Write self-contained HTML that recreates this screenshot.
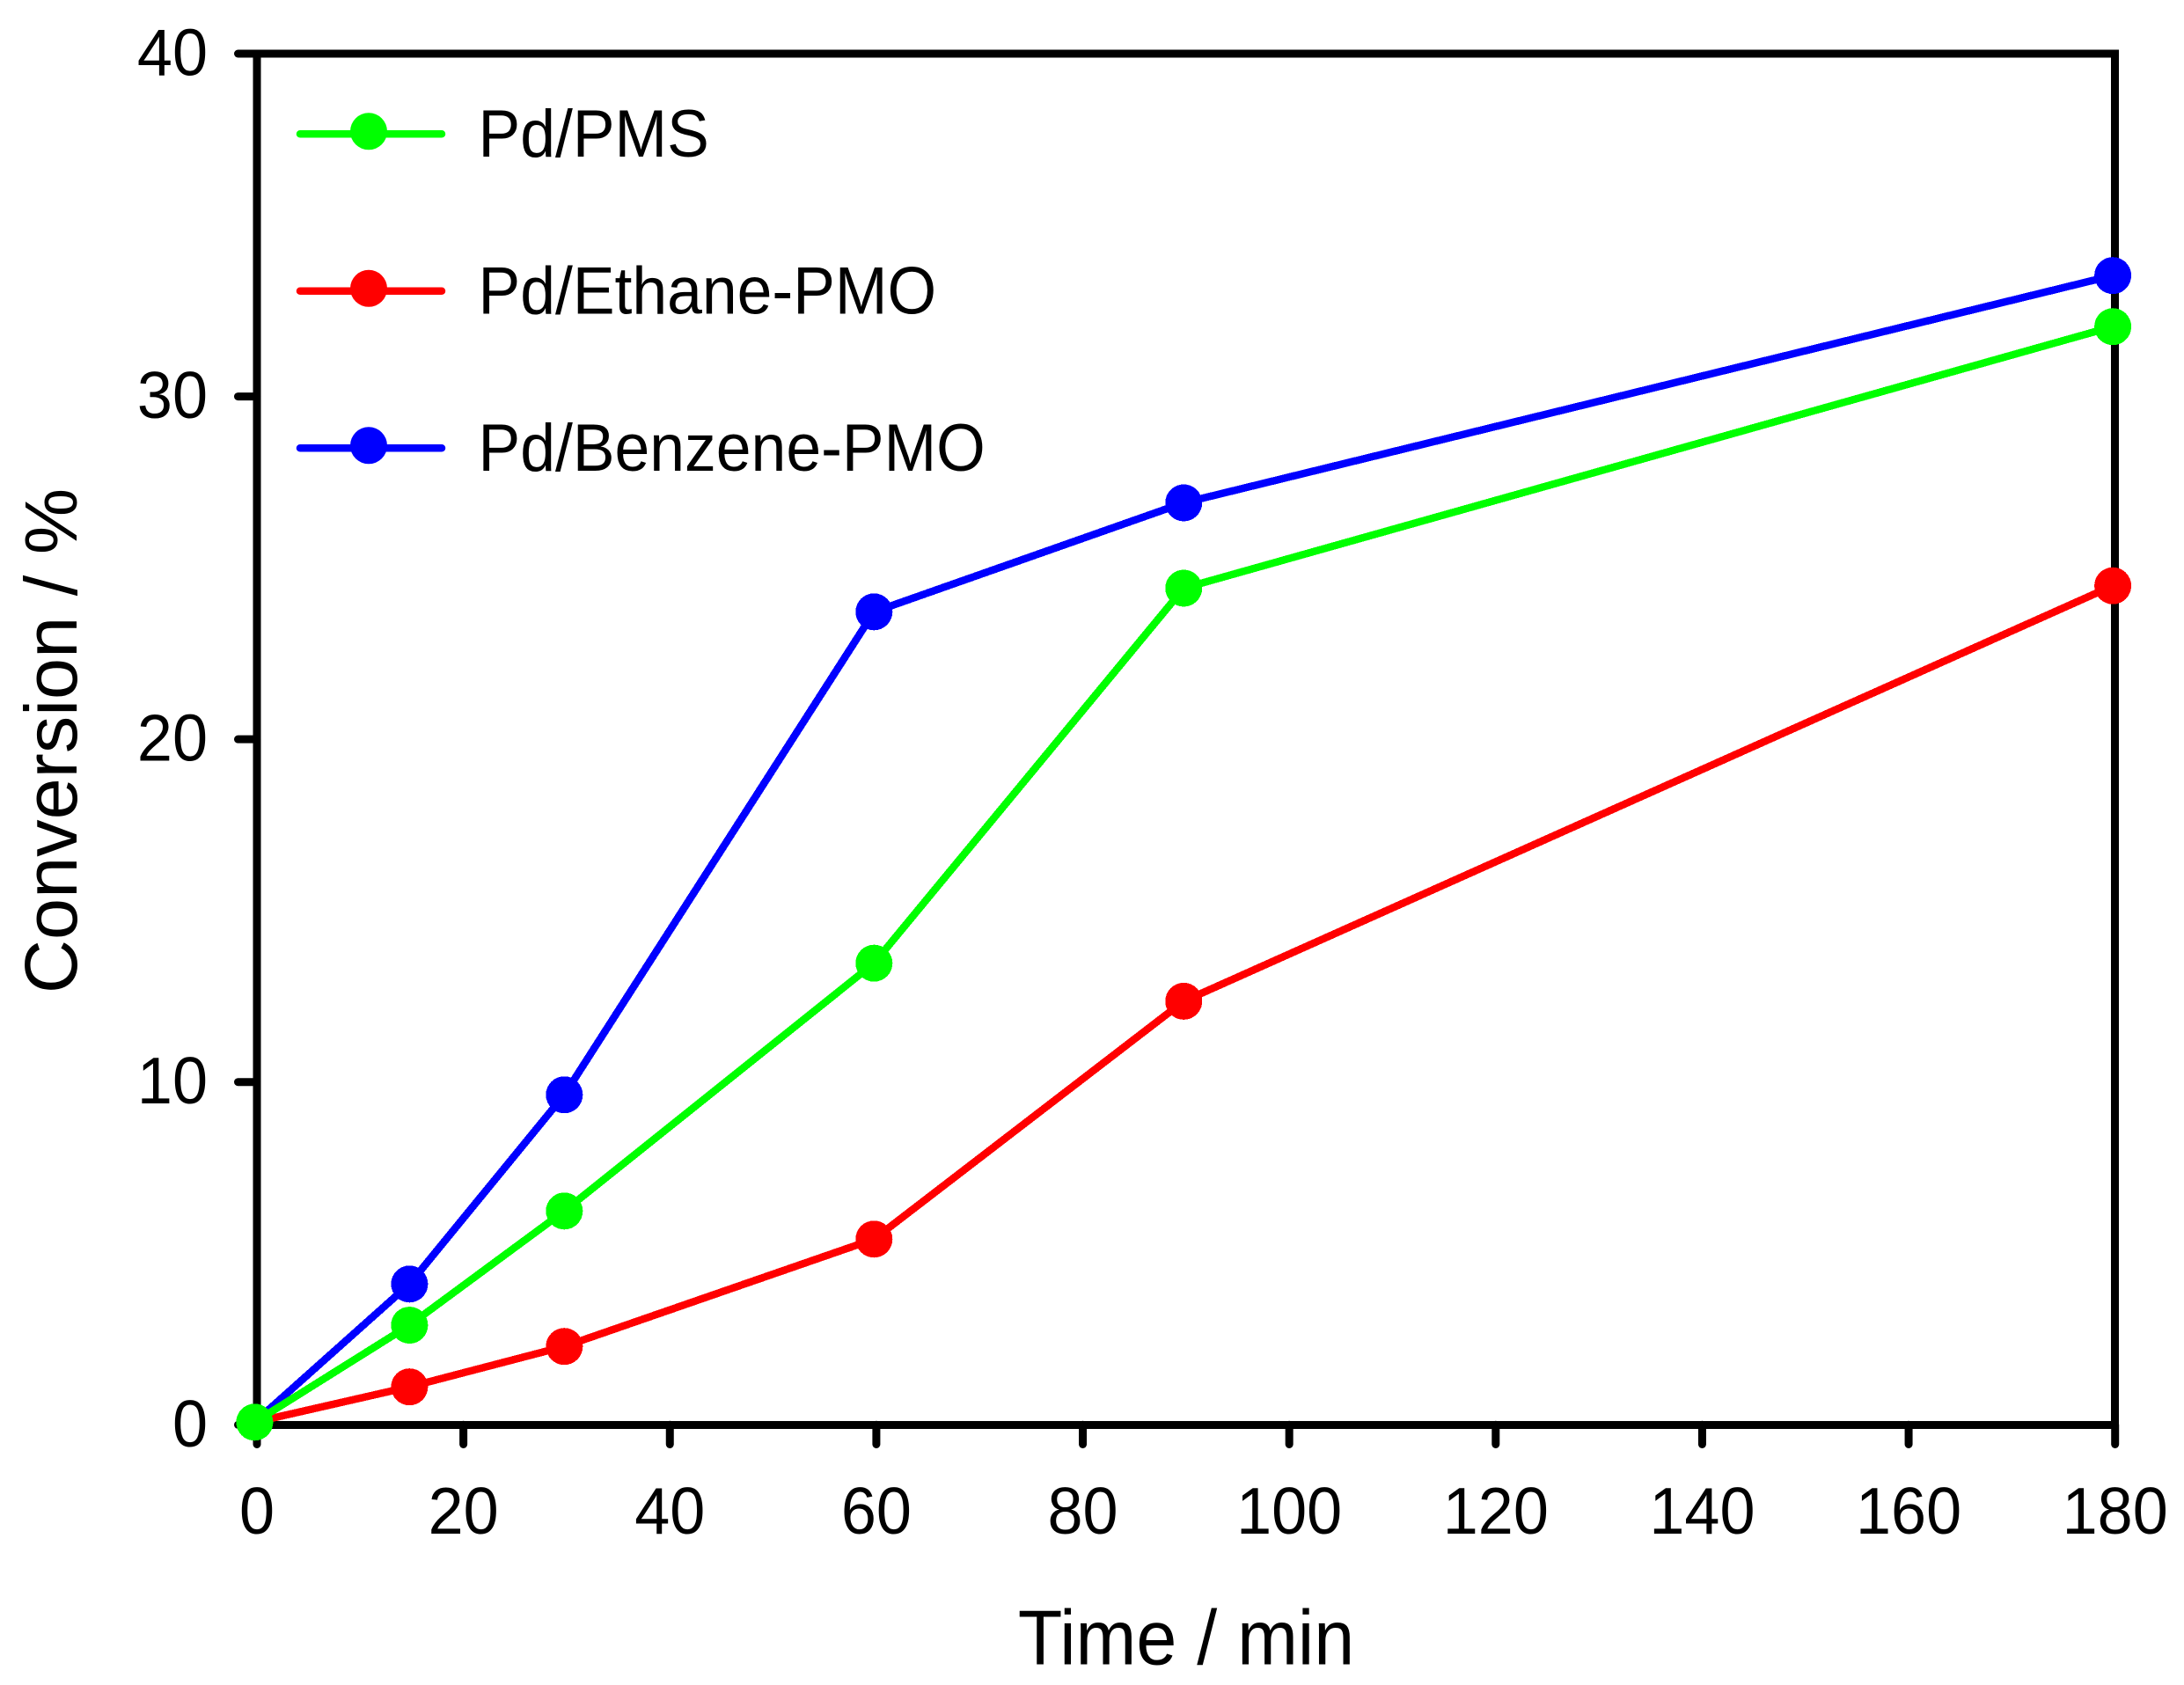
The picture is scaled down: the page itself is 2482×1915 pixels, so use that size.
<!DOCTYPE html>
<html lang="en">
<head>
<meta charset="utf-8">
<title>Conversion vs Time</title>
<style>
html,body{margin:0;padding:0;background:#fff;width:2482px;height:1915px;overflow:hidden}
svg{display:block}
text{font-family:"Liberation Sans",Arial,sans-serif;fill:#000}
</style>
</head>
<body>
<svg id="chart" xmlns="http://www.w3.org/2000/svg" width="2482" height="1915" viewBox="0 0 2482 1915">
  <rect x="0" y="0" width="2482" height="1915" fill="#ffffff"/>
  <rect x="292" y="61" width="2111.7" height="1558.3" fill="none" stroke="#000" stroke-width="9" shape-rendering="crispEdges"/>
  <g id="ticks"></g>
  <g id="tick-labels"></g>
  <g id="series" shape-rendering="crispEdges"></g>
  <g id="legend"></g>
  <text transform="translate(1348 1891.5) scale(1 1.07)" font-size="82.6" text-anchor="middle">Time / min</text>
  <text transform="translate(87 842) rotate(-90)" font-size="84.7" text-anchor="middle">Conversion / %</text>
</svg>
<script>
const times = [0, 15, 30, 60, 90, 180];
const pdPms = [0, 2.83, 6.16, 13.39, 24.33, 31.96];
const pdEthane = [0, 1.03, 2.21, 5.34, 12.28, 24.4];
const pdBenzene = [0, 4.03, 9.55, 23.64, 26.82, 33.45];
const xTickValues = [0, 20, 40, 60, 80, 100, 120, 140, 160, 180];
const yTickValues = [0, 10, 20, 30, 40];
const legendLabels = ['Pd/PMS', 'Pd/Ethane-PMO', 'Pd/Benzene-PMO'];

const NS = 'http://www.w3.org/2000/svg';
function make(tag, attrs) {
  const el = document.createElementNS(NS, tag);
  for (const k in attrs) el.setAttribute(k, attrs[k]);
  return el;
}
// axis functions for the frame and tick marks
function axisX(v) { return 292 + v * (2403.7 - 292) / 180; }
function axisY(v) { return 1619.3 - v * (1619.3 - 61) / 40; }
// data marks sit slightly up and left of the axis frame in the original
function dataX(v) { return axisX(v) - 2.6; }
function dataY(v) { return axisY(v) - 3; }

const ticks = document.getElementById('ticks');
const tickLabels = document.getElementById('tick-labels');
xTickValues.forEach(function (v) {
  const t = make('line', {x1: axisX(v), x2: axisX(v), y1: 1619.3, y2: 1641.5, stroke: '#000', 'stroke-width': 9, 'stroke-linecap': 'round'});
  
  
  ticks.appendChild(t);
  const l = make('text', {transform: 'translate(' + axisX(v) + ' 1743) scale(1 1.05)', 'font-size': 72, 'text-anchor': 'middle'});
  
  
  l.textContent = v;
  tickLabels.appendChild(l);
});
yTickValues.forEach(function (v) {
  const t = make('line', {x1: 292, x2: 270.5, y1: axisY(v), y2: axisY(v), stroke: '#000', 'stroke-width': 9, 'stroke-linecap': 'round'});
  
  
  ticks.appendChild(t);
  const l = make('text', {transform: 'translate(236 ' + (axisY(v) + 24.5) + ') scale(1 1.05)', 'font-size': 72, 'text-anchor': 'end'});
  
  
  l.textContent = v;
  tickLabels.appendChild(l);
});

function drawSeries(name, values, color) {
  const host = document.getElementById('series');
  const line = make('polyline', {
    points: values.map(function (v, i) { return dataX(times[i]) + ',' + dataY(v); }).join(' '),
    fill: 'none', stroke: color, 'stroke-width': 8.5, 'stroke-linejoin': 'round'
  });
  
  
  host.appendChild(line);
  values.forEach(function (v, i) {
    const c = make('circle', {cx: dataX(times[i]), cy: dataY(v), r: 21, fill: color});
    
    
    host.appendChild(c);
  });
}
drawSeries('pd-benzene-pmo', pdBenzene, '#0000ff');
drawSeries('pd-ethane-pmo', pdEthane, '#ff0000');
drawSeries('pd-pms', pdPms, '#00ff00');

const legendColors = ['#00ff00', '#ff0000', '#0000ff'];
const legendHost = document.getElementById('legend');
legendLabels.forEach(function (label, i) {
  const rowY = 152.3 + i * 178.5;
  const line = make('line', {x1: 341, x2: 502, y1: rowY, y2: rowY, stroke: legendColors[i], 'stroke-width': 8.5, 'stroke-linecap': 'round'});
  
  
  legendHost.appendChild(line);
  const dot = make('circle', {cx: 419, cy: rowY - 3, r: 21, fill: legendColors[i]});
  
  
  legendHost.appendChild(dot);
  const text = make('text', {transform: 'translate(543.5 ' + (rowY + 25.5) + ') scale(1 1.065)', 'font-size': 71.5});
  
  
  text.textContent = label;
  legendHost.appendChild(text);
});
</script>
</body>
</html>
